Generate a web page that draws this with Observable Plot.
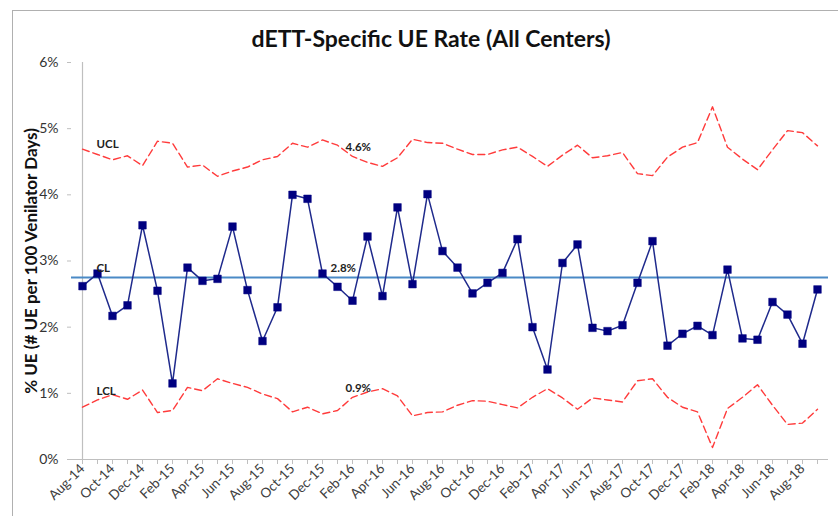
<!DOCTYPE html>
<html>
<head>
<meta charset="utf-8">
<script src="https://cdn.jsdelivr.net/npm/d3@7"></script>
<script src="https://cdn.jsdelivr.net/npm/@observablehq/plot@0.6"></script>
<style>
  html, body { margin: 0; padding: 0; background: #fff; }
  #wrap { position: relative; width: 838px; height: 516px; overflow: hidden; font-family: Lato, "Open Sans", sans-serif; }
  #frame { position: absolute; left: 12px; top: 10px; width: 900px; height: 600px; border-left: 1px solid #b0b0b0; border-top: 1px solid #b0b0b0; z-index: 2; pointer-events: none; }
  #title { height: 50px; box-sizing: border-box; padding-top: 25px; padding-left: 24px; text-align: center; font-size: 23px; line-height: 26px; font-weight: bold; color: #111; }
  svg { display: block; }
  g[aria-label="y-axis label"] text { font-weight: bold; font-size: 17px; fill: #111; }
  g[aria-label="y-axis tick label"] text { font-size: 14px; fill: #333; }
  g[aria-label="x-axis tick label"] text { font-size: 13.5px; fill: #404040; }
</style>
</head>
<body>
<div id="wrap">
  <div id="frame"></div>
  <div id="title">dETT-Specific UE Rate (All Centers)</div>
  <div id="chart"></div>
</div>
<script>
const months = ["Aug-14","Sep-14","Oct-14","Nov-14","Dec-14",
  "Jan-15","Feb-15","Mar-15","Apr-15","May-15","Jun-15","Jul-15","Aug-15","Sep-15","Oct-15","Nov-15","Dec-15",
  "Jan-16","Feb-16","Mar-16","Apr-16","May-16","Jun-16","Jul-16","Aug-16","Sep-16","Oct-16","Nov-16","Dec-16",
  "Jan-17","Feb-17","Mar-17","Apr-17","May-17","Jun-17","Jul-17","Aug-17","Sep-17","Oct-17","Nov-17","Dec-17",
  "Jan-18","Feb-18","Mar-18","Apr-18","May-18","Jun-18","Jul-18","Aug-18","Sep-18"];

const rate = [2.62,2.81,2.17,2.33,3.54,2.55,1.15,2.90,2.70,2.73,
  3.52,2.56,1.79,2.30,4.00,3.94,2.81,2.61,2.40,3.37,
  2.47,3.81,2.65,4.01,3.15,2.90,2.51,2.67,2.82,3.33,
  2.00,1.36,2.97,3.25,1.99,1.94,2.03,2.67,3.30,1.72,
  1.90,2.02,1.88,2.87,1.83,1.81,2.38,2.19,1.75,2.57];

const ucl = [4.69,4.61,4.53,4.59,4.44,4.81,4.78,4.42,4.45,4.28,
  4.36,4.42,4.53,4.58,4.78,4.72,4.83,4.75,4.58,4.49,
  4.43,4.56,4.84,4.79,4.78,4.69,4.61,4.61,4.68,4.72,
  4.58,4.43,4.60,4.75,4.56,4.59,4.64,4.32,4.29,4.57,
  4.72,4.79,5.33,4.72,4.54,4.38,4.68,4.97,4.94,4.74];

const lcl = [0.79,0.90,0.98,0.91,1.05,0.71,0.74,1.09,1.04,1.22,
  1.15,1.09,0.99,0.92,0.72,0.79,0.69,0.74,0.94,1.02,
  1.07,0.96,0.66,0.71,0.72,0.82,0.89,0.88,0.83,0.78,
  0.94,1.07,0.93,0.76,0.93,0.90,0.87,1.19,1.22,0.94,
  0.79,0.72,0.18,0.77,0.94,1.13,0.82,0.53,0.55,0.76];

const cl = 2.75;
const yTicks = [0,1,2,3,4,5,6];

const data = months.map((m, i) => ({month: m, rate: rate[i], ucl: ucl[i], lcl: lcl[i]}));

const lineLabels = [
  {text: "UCL", month: months[1], y: 4.76},
  {text: "CL", month: months[1], y: 2.89},
  {text: "LCL", month: months[1], y: 1.03}
];
const valueLabels = [
  {text: "4.6%", month: months[18], y: 4.72},
  {text: "2.8%", month: months[17], y: 2.89},
  {text: "0.9%", month: months[18], y: 1.08}
];

const chart = Plot.plot({
  width: 838,
  height: 466,
  marginTop: 12,
  marginLeft: 71,
  marginRight: 10,
  marginBottom: 57,
  style: {fontFamily: "Lato, 'Open Sans', sans-serif", background: "white"},
  x: {type: "point", domain: months, padding: 0},
  y: {domain: [0, 6]},
  marks: [
    Plot.axisY({
      ticks: yTicks,
      tickFormat: d => d + "%",
      tickSize: 4,
      tickPadding: 9,
      stroke: "#bfbfbf",
      label: "% UE (# UE per 100 Venilator Days)",
      labelAnchor: "center",
      labelArrow: "none",
      labelOffset: 47
    }),
    Plot.axisX({
      ticks: months,
      tickFormat: (d, i) => (months.indexOf(d) % 2 === 0 ? d : ""),
      tickRotate: -45,
      tickSize: 5,
      tickPadding: 2,
      stroke: "#bfbfbf",
      label: null
    }),
    Plot.ruleX([months[0]], {stroke: "#bfbfbf", strokeWidth: 1.2}),
    Plot.ruleY([0], {stroke: "#bfbfbf", strokeWidth: 1.2}),
    Plot.line(data, {x: "month", y: "ucl", stroke: "#ff3b3b", strokeWidth: 1.4, strokeDasharray: "7,4"}),
    Plot.line(data, {x: "month", y: "lcl", stroke: "#ff3b3b", strokeWidth: 1.4, strokeDasharray: "7,4"}),
    Plot.ruleY([cl], {stroke: "#4a8ac6", strokeWidth: 2}),
    Plot.line(data, {x: "month", y: "rate", stroke: "#1f2a8c", strokeWidth: 1.5}),
    Plot.dot(data, {x: "month", y: "rate", symbol: "square", r: 4.3, fill: "#000080", stroke: "#000080", strokeWidth: 0.5}),
    Plot.text(lineLabels, {x: "month", y: "y", text: "text", textAnchor: "start", dx: -1, fontSize: 11.5, fontWeight: "bold", fill: "#222"}),
    Plot.text(valueLabels, {x: "month", y: "y", text: "text", textAnchor: "start", dx: -7, fontSize: 11.5, fontWeight: "bold", fill: "#222"})
  ]
});
document.getElementById("chart").appendChild(chart);
</script>
</body>
</html>
